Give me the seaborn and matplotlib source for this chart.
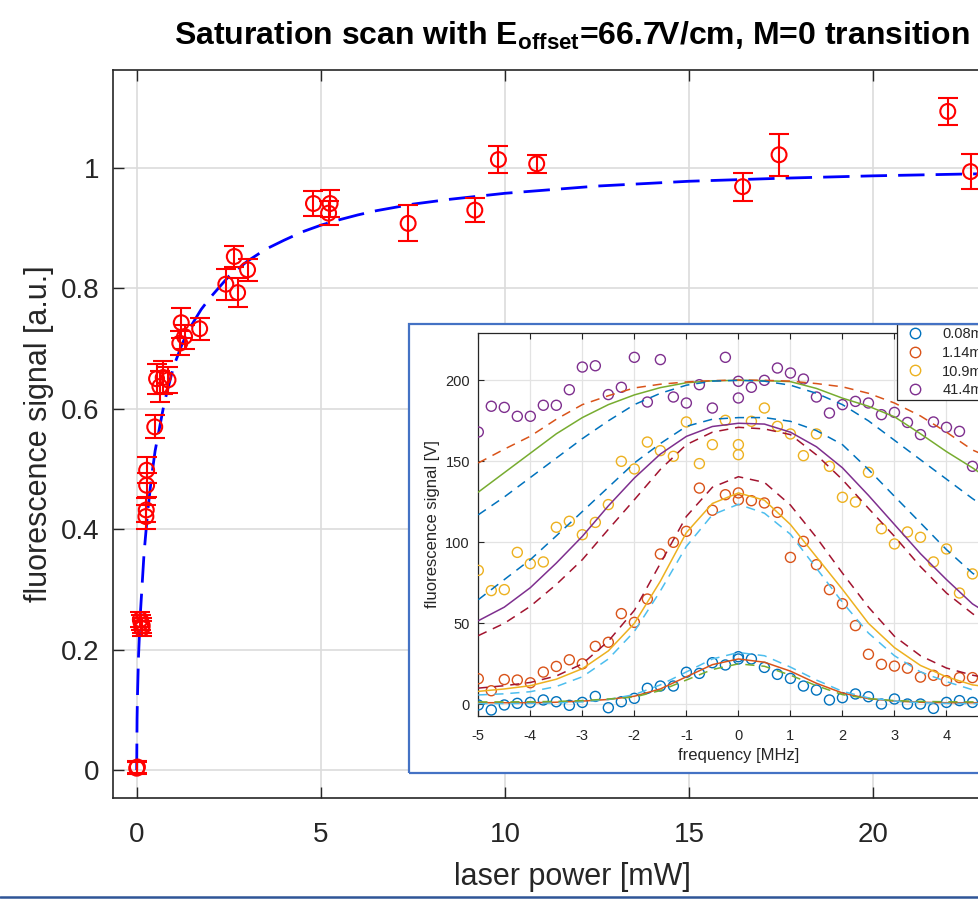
import matplotlib
matplotlib.use("Agg")
import matplotlib.pyplot as plt
import seaborn as sns
import pandas as pd
from matplotlib.lines import Line2D
from matplotlib.patches import Rectangle

# ---------------- main chart data ----------------
power_mW = [0.00, 0.02, 0.10, 0.12, 0.14, 0.15, 0.25, 0.26, 0.27, 0.27, 0.49,
            0.54, 0.63, 0.72, 0.85, 1.17, 1.21, 1.30, 1.71, 2.42, 2.65, 2.74,
            3.01, 4.80, 5.21, 5.25, 7.37, 9.18, 9.82, 10.86, 16.45, 17.44,
            22.02, 22.64]
signal_au = [0.003, 0.005, 0.250, 0.245, 0.235, 0.240, 0.421, 0.432, 0.473,
             0.498, 0.570, 0.650, 0.637, 0.652, 0.648, 0.709, 0.743, 0.720,
             0.733, 0.807, 0.853, 0.793, 0.831, 0.941, 0.925, 0.941, 0.908,
             0.930, 1.014, 1.007, 0.969, 1.022, 1.094, 0.994]
signal_err = [0.010, 0.010, 0.012, 0.012, 0.012, 0.012, 0.020, 0.020, 0.020,
              0.022, 0.019, 0.025, 0.025, 0.028, 0.022, 0.020, 0.025, 0.020,
              0.018, 0.026, 0.017, 0.024, 0.018, 0.020, 0.020, 0.023, 0.030,
              0.020, 0.023, 0.015, 0.023, 0.035, 0.023, 0.029]
fit_power = [0, 0.01, 0.02, 0.05, 0.1, 0.2, 0.3, 0.4, 0.5, 0.75, 1.0, 1.25,
             1.5, 1.75, 2.0, 2.5, 3.0, 3.5, 4.0, 4.5, 5.0, 5.5, 6.0, 6.5, 7.5,
             8.5, 10, 12.5, 15, 17.5, 20, 22.5, 25]
fit_signal = [0, 0.085, 0.12, 0.19, 0.26, 0.36, 0.43, 0.485, 0.53, 0.61, 0.67,
              0.71, 0.74, 0.765, 0.785, 0.82, 0.845, 0.865, 0.88, 0.894, 0.905,
              0.914, 0.922, 0.929, 0.94, 0.948, 0.958, 0.970, 0.978, 0.983,
              0.987, 0.990, 0.992]
main_xticks = [0, 5, 10, 15, 20]
main_yticks = [0, 0.2, 0.4, 0.6, 0.8, 1.0]
main_yticklabels = ["0", "0.2", "0.4", "0.6", "0.8", "1"]

# ---------------- inset data ----------------
freq_MHz = [-5, -4.75, -4.5, -4.25, -4, -3.75, -3.5, -3.25, -3, -2.75, -2.5,
            -2.25, -2, -1.75, -1.5, -1.25, -1, -0.75, -0.5, -0.25, 0, 0, 0.25,
            0.5, 0.75, 1, 1.25, 1.5, 1.75, 2, 2.25, 2.5, 2.75, 3, 3.25, 3.5,
            3.75, 4, 4.25, 4.5, 4.75, 5]
sig_0p08 = [-0.4, -3.5, -0.4, 0.6, 1.2, 2.7, 1.6, -0.6, 1.2, 4.9, -2.1, 1.6,
            3.7, 9.9, 11.3, 11.3, 19.8, 19.1, 25.7, 24.3, 29.4, 28.0, 28.0,
            22.8, 18.5, 16.0, 11.3, 8.8, 2.7, 4.1, 6.4, 4.7, 0.2, 3.3, 0.2,
            0.2, -2.5, 1.2, 2.3, 1.2, 1.0, 0.5]
sig_1p14 = [15.8, 8.4, 15.3, 15.0, 13.3, 19.9, 23.4, 27.5, 25.0, 35.8, 38.3,
            56.0, 50.6, 65.0, 92.8, 100.0, 106.8, 133.5, 119.8, 129.4, 130.5,
            126.3, 125.7, 124.3, 118.5, 90.7, 100.6, 86.2, 70.8, 62.1, 48.6,
            30.9, 24.7, 23.6, 22.3, 16.8, 17.9, 14.6, 16.5, 16.5, 15.0, 14.0]
sig_10p9 = [82.7, 70.2, 70.8, 93.8, 86.8, 87.9, 109.3, 113.0, 104.7, 112.3,
            123.3, 150.0, 145.3, 161.9, 156.6, 153.1, 174.3, 148.6, 160.3,
            175.3, 160.3, 154.1, 174.7, 182.9, 171.6, 166.9, 153.5, 166.9,
            146.9, 127.8, 124.9, 143.2, 108.4, 99.0, 106.4, 103.1, 87.9, 95.9,
            68.7, 80.5, 62.0, 58.0]
sig_41p4 = [168.1, 184.0, 183.3, 177.8, 177.8, 184.6, 184.6, 194.2, 208.2,
            209.0, 191.2, 195.7, 214.2, 186.6, 212.8, 189.7, 186.0, 197.3,
            182.9, 214.2, 199.4, 189.1, 195.7, 200.0, 207.6, 204.5, 200.8,
            189.7, 179.8, 185.0, 187.0, 186.0, 178.8, 180.2, 174.0, 166.5,
            174.3, 171.0, 168.5, 146.9, 150.0, 140.0]
series_labels = ["0.08mW", "1.14mW", "10.9mW", "41.4mW"]

fit_freq = [-5, -4.5, -4, -3.5, -3, -2.5, -2, -1.5, -1, -0.5, 0, 0.5, 1, 1.5,
            2, 2.5, 3, 3.5, 4, 4.5, 5]
fit_0p08 = [1, 1, 1, 1.3, 2, 3, 5, 9.5, 17, 24.5, 28, 26, 20.5, 13, 7, 3.5, 2,
            1.3, 1, 1, 1]
fit_0p08_hi = [0.5, 0.5, 0.6, 0.9, 1.5, 3, 6, 12, 20, 28, 32, 30, 23, 15, 8,
               4, 2, 1, 0.6, 0.5, 0.5]
fit_0p08_lo = [1.5, 1.5, 1.6, 1.8, 2.3, 3.3, 4.5, 8.5, 15, 21.5, 25, 23.5, 18,
               11.5, 6, 3.5, 2.3, 1.8, 1.6, 1.5, 1.5]
fit_1p14 = [8, 9.5, 11.5, 15.5, 22, 33, 50, 76, 106, 124, 130.5, 126, 111, 91,
            71, 50, 35, 24, 17, 12, 10]
fit_1p14_hi = [10, 11.5, 13.5, 17.5, 25, 39, 58, 87, 116, 134, 140.5, 137, 123,
               103, 81, 60, 42, 30, 22.4, 18, 15]
fit_1p14_lo = [5.8, 6.5, 7.8, 11, 17, 28, 45, 70, 97.5, 117, 123.5, 118, 105,
               84, 63, 44, 30, 20, 14, 9, 7]
fit_10p9 = [51.6, 60, 72, 87.2, 103.7, 122.5, 139.7, 154.5, 165.4, 171.5,
            173.5, 173, 168, 159, 146, 129, 111, 93, 77, 62, 52]
fit_10p9_hi = [64.6, 77, 89.3, 104, 119, 134, 149, 161, 171.6, 176, 177, 177,
               174.7, 169, 160.3, 145, 128.4, 112, 95.5, 81, 70]
fit_10p9_lo = [42.4, 50, 60.5, 74, 89.3, 108, 126.3, 145, 160.3, 168, 171, 170,
               166.5, 154, 138.7, 121, 103.7, 85, 68.7, 56, 45]
fit_41p4 = [131, 143, 155, 167, 177, 185, 191, 195.5, 198.5, 199.7, 200,
            199.8, 199.2, 195, 189, 184, 177.5, 167, 156, 146, 135]
fit_41p4_hi = [149, 157.5, 165.5, 176, 185, 190.5, 195.3, 197.6, 199, 199.8,
               200.2, 200, 199.5, 198, 196, 192, 186, 178, 168, 157, 150]
fit_41p4_lo = [117, 128, 140, 152, 164, 175, 185, 192, 197, 199.5, 200, 199.5,
               197, 192, 185, 175, 163, 151, 139, 127, 116]
inset_xticks = [-5, -4, -3, -2, -1, 0, 1, 2, 3, 4]
inset_yticks = [0, 50, 100, 150, 200]

# ---------------- colours ----------------
C_BLUE, C_ORANGE, C_YELLOW, C_PURPLE = "#0072BD", "#D95319", "#EDB120", "#7E2F8E"
C_GREEN, C_LBLUE, C_DRED = "#77AC30", "#4DBEEE", "#A2142F"
TXT = "#262626"

sns.set_theme(style="white")
plt.rcParams["font.family"] = ["Liberation Sans", "DejaVu Sans"]
plt.rcParams["axes.unicode_minus"] = False
plt.rcParams["mathtext.fontset"] = "custom"
plt.rcParams["mathtext.rm"] = "Liberation Sans:bold"
plt.rcParams["mathtext.it"] = "Liberation Sans:bold"
plt.rcParams["mathtext.bf"] = "Liberation Sans:bold"

W, H = 979, 899
fig = plt.figure(figsize=(W / 100, H / 100), dpi=100)
fig.patch.set_facecolor("white")


def box(l, t, r, b):
    return [l / W, 1 - b / H, (r - l) / W, (b - t) / H]


# ---------------- main axes ----------------
ax = fig.add_axes(box(113, 70, 1031, 798))
ax.set_facecolor("white")
ax.grid(True, color="#dcdcdc", lw=1.2)
ax.set_axisbelow(True)

fit_df = pd.DataFrame({"power": fit_power, "signal": fit_signal})
sns.lineplot(data=fit_df, x="power", y="signal", ax=ax, color="blue", lw=2.0,
             zorder=3, estimator=None)
ax.lines[-1].set_dashes((9.5, 4))

ax.errorbar(power_mW, signal_au, yerr=signal_err, fmt="none", ecolor="red",
            elinewidth=1.5, capsize=7.5, capthick=1.5, zorder=4)
sns.scatterplot(x=power_mW, y=signal_au, ax=ax, marker="o", s=115,
                color="red", facecolors="none", edgecolor="red",
                linewidth=1.5, zorder=5)

ax.set_xlim(-0.643, 24.28)
ax.set_ylim(-0.0465, 1.1628)
ax.set_xticks(main_xticks)
ax.set_yticks(main_yticks)
ax.set_yticklabels(main_yticklabels)
ax.tick_params(direction="in", length=8, width=1, colors=TXT, labelsize=20,
               top=True, right=True, bottom=True, left=True)
ax.tick_params(axis="x", pad=17)
ax.tick_params(axis="y", pad=10)
for sp in ax.spines.values():
    sp.set_color(TXT)
    sp.set_linewidth(1.2)
ax.set_xlabel("laser power [mW]", fontsize=22, color=TXT, labelpad=10)
ax.set_ylabel("fluorescence signal [a.u.]", fontsize=22, color=TXT, labelpad=5)
ax.set_title(r"Saturation scan with E$_{\mathrm{offset}}$=66.7V/cm, M=0 transition",
             fontsize=23, fontweight="bold", color="black", pad=18)

# ---------------- inset frame ----------------
frame_ax = fig.add_axes(box(409.3, 324, 1060, 772.7), zorder=3)
frame_ax.set_facecolor("white")
frame_ax.set_xticks([])
frame_ax.set_yticks([])
for sp in frame_ax.spines.values():
    sp.set_visible(False)

ax_in = fig.add_axes(box(478.3, 332.7, 998.5, 716), zorder=4)
ax_in.set_facecolor("white")
ax_in.grid(True, color="#e3e3e3", lw=0.9)
ax_in.set_axisbelow(True)

data_sets = [(sig_0p08, C_BLUE), (sig_1p14, C_ORANGE),
             (sig_10p9, C_YELLOW), (sig_41p4, C_PURPLE)]
for vals, col in data_sets:
    sns.scatterplot(x=freq_MHz, y=vals, ax=ax_in, marker="o", s=52,
                    color=col, facecolors="none", edgecolor=col,
                    linewidth=1.0, zorder=3)

fit_lines = [
    (fit_0p08, C_ORANGE, "-"), (fit_0p08_hi, C_LBLUE, "--"), (fit_0p08_lo, C_GREEN, "--"),
    (fit_1p14, C_YELLOW, "-"), (fit_1p14_hi, C_DRED, "--"), (fit_1p14_lo, C_LBLUE, "--"),
    (fit_10p9, C_PURPLE, "-"), (fit_10p9_hi, C_BLUE, "--"), (fit_10p9_lo, C_DRED, "--"),
    (fit_41p4, C_GREEN, "-"), (fit_41p4_hi, C_ORANGE, "--"), (fit_41p4_lo, C_BLUE, "--"),
]
for vals, col, ls in fit_lines:
    sns.lineplot(x=fit_freq, y=vals, ax=ax_in, color=col, lw=1.1,
                 estimator=None, zorder=4)
    if ls == "--":
        ax_in.lines[-1].set_dashes((6, 4.5))

ax_in.set_xlim(-5, 5)
ax_in.set_ylim(-7.2, 229.4)
ax_in.set_xticks(inset_xticks)
ax_in.set_yticks(inset_yticks)
ax_in.tick_params(direction="in", length=4, width=0.8, colors=TXT,
                  labelsize=10.5, top=True, right=True, bottom=True, left=True)
ax_in.tick_params(axis="x", pad=9)
ax_in.tick_params(axis="y", pad=6)
for sp in ax_in.spines.values():
    sp.set_color(TXT)
    sp.set_linewidth(0.9)
ax_in.set_xlabel("frequency [MHz]", fontsize=12, color=TXT, labelpad=4)
ax_in.set_ylabel("fluorescence signal [V]", fontsize=12, color=TXT, labelpad=4)

handles = [Line2D([], [], ls="none", marker="o", ms=7.5, mfc="none", mec=c,
                  mew=1.0) for _, c in data_sets]
leg = ax_in.legend(handles, series_labels, loc="upper left",
                   bbox_to_anchor=(897 / W, 1 - 324 / H),
                   bbox_transform=fig.transFigure, fontsize=10.5,
                   frameon=True, fancybox=False, edgecolor=TXT,
                   framealpha=1, borderpad=0.2, labelspacing=0.33,
                   handlelength=2.1, handletextpad=0.8, borderaxespad=0)
leg.get_frame().set_linewidth(0.9)
for t in leg.get_texts():
    t.set_color(TXT)

# blue picture border of the inset and slide line
fig.add_artist(Rectangle((409.3 / W, 1 - 772.7 / H), (1060 - 409.3) / W,
                         (772.7 - 324) / H, transform=fig.transFigure,
                         fill=False, ec="#4472C4", lw=1.6, zorder=10))
fig.add_artist(Line2D([0, 1], [1 - 897 / H, 1 - 897 / H],
                      transform=fig.transFigure, color="#2F5597", lw=1.8,
                      zorder=10))

fig.savefig("out.png", dpi=100, facecolor="white")
